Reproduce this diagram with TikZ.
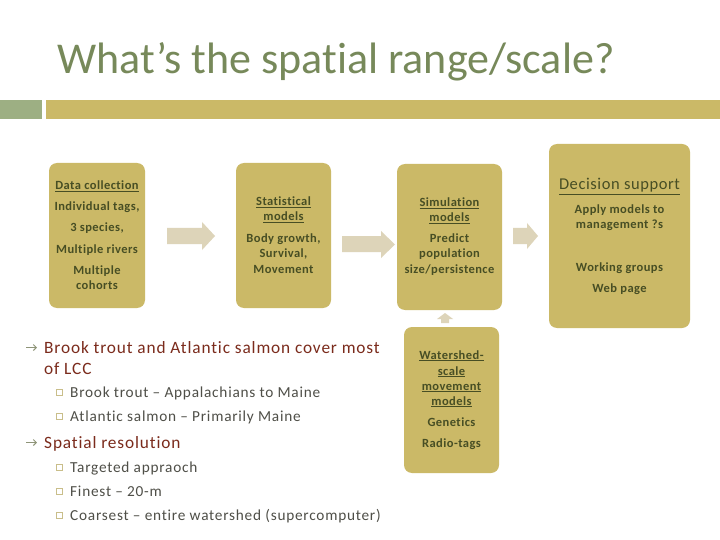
\documentclass[tikz,border=0pt]{standalone}
\usepackage{fontspec}
\setmainfont[Ligatures=NoCommon]{Carlito}
\newfontfamily\spacedfont[LetterSpace=5,Ligatures=NoCommon]{Carlito}
\newfontfamily\boxfont[LetterSpace=3.5,Ligatures=NoCommon]{Carlito}
\usetikzlibrary{arrows.meta}
\definecolor{gold}{HTML}{CBB967}
\definecolor{greenbar}{HTML}{9DAF83}
\definecolor{boxtext}{HTML}{474E24}
\definecolor{titlecol}{HTML}{77895A}
\definecolor{arrowcol}{HTML}{DDD4B9}
\definecolor{darkred}{HTML}{7B2B1C}
\definecolor{subtext}{HTML}{4F4F48}
\definecolor{bulletcol}{HTML}{8E9478}
\definecolor{sqcol}{HTML}{C9BE8A}
\begin{document}
\begin{tikzpicture}[x=1pt,y=-1pt,
  goldbox/.style={fill=gold,rounded corners=8pt,draw=none},
  bt/.style={text=boxtext,font=\boxfont\bfseries\fontsize{12.5}{14}\selectfont,inner sep=0pt,anchor=base},
  bigtxt/.style={text=darkred,font=\spacedfont\fontsize{17.3}{20}\selectfont,inner sep=0pt,anchor=base west},
  subtxt/.style={text=subtext,font=\spacedfont\fontsize{15.3}{18}\selectfont,inner sep=0pt,anchor=base west},
  blockarrow/.style={fill=arrowcol,draw=none},
  bularrow/.style={bulletcol,line width=1pt,-{Straight Barb[length=3pt,width=6pt]}}]
\useasboundingbox (0,0) rectangle (720,540);
\fill[white] (0,0) rectangle (720,540);
% title
\node[text=titlecol,font=\fontsize{44}{50}\selectfont,inner sep=0pt,anchor=base west] (title) at (57,74) {What’s the spatial range/scale?};
% bars
\fill[greenbar] (0,100) rectangle (42,119);
\fill[gold] (46,100) rectangle (720,119);
% boxes
\draw[goldbox] (49,163) rectangle (145,308);
\draw[goldbox] (236,163) rectangle (331,308);
\draw[goldbox] (397,164) rectangle (502,310);
\draw[goldbox] (549,144) rectangle (690,328);
\draw[goldbox] (404,327) rectangle (499,473);
% box 1 texts
\node[bt] (t11) at (97,190) {\underline{Data collection}};
\node[bt] (t12) at (97,211) {Individual tags,};
\node[bt] (t13) at (97,232) {3 species,};
\node[bt] (t14) at (97,253) {Multiple rivers};
\node[bt] (t15) at (97,274) {Multiple};
\node[bt] (t16) at (97,289) {cohorts};
% box 2
\node[bt] (t21) at (283.5,206) {\underline{Statistical}};
\node[bt] (t22) at (283.5,221) {\underline{models}};
\node[bt] (t23) at (283.5,242) {Body growth,};
\node[bt] (t24) at (283.5,258) {Survival,};
\node[bt] (t25) at (283.5,273) {Movement};
% box 3
\node[bt] (t31) at (449.5,207) {\underline{Simulation}};
\node[bt] (t32) at (449.5,222) {\underline{models}};
\node[bt] (t33) at (449.5,243) {Predict};
\node[bt] (t34) at (449.5,258) {population};
\node[bt] (t35) at (449.5,273) {size/persistence};
% box 4
\node[bt,font=\boxfont\fontsize{16.5}{18}\selectfont] (t41) at (619.5,190) {\underline{Decision support}};
\node[bt] (t42) at (619.5,214) {Apply models to};
\node[bt] (t43) at (619.5,229) {management ?s};
\node[bt] (t44) at (619.5,271) {Working groups};
\node[bt] (t45) at (619.5,292) {Web page};
% box 5
\node[bt] (t51) at (451.5,359) {\underline{Watershed-}};
\node[bt] (t52) at (451.5,375) {\underline{scale}};
\node[bt] (t53) at (451.5,390) {\underline{movement}};
\node[bt] (t54) at (451.5,405) {\underline{models}};
\node[bt] (t55) at (451.5,426) {Genetics};
\node[bt] (t56) at (451.5,447) {Radio-tags};
% block arrows
\fill[blockarrow] (167,228) -- (202,228) -- (202,222) -- (215,236) -- (202,250) -- (202,244) -- (167,244) -- cycle;
\fill[blockarrow] (342,236) -- (381,236) -- (381,231) -- (395,244.5) -- (381,258) -- (381,252) -- (342,252) -- cycle;
\fill[blockarrow] (513,228) -- (527,228) -- (527,223) -- (538,236) -- (527,249) -- (527,244) -- (513,244) -- cycle;
\fill[blockarrow] (441,323) -- (449,323) -- (449,319) -- (453,319) -- (445,313) -- (437,319) -- (441,319) -- cycle;
% bullets
\draw[bularrow] (26,347.5) -- (37,347.5);
\node[bigtxt] (l1) at (44,353) {Brook trout and Atlantic salmon cover most};
\node[bigtxt] (l2) at (44,374) {of LCC};
\draw[bularrow] (26,442.5) -- (37,442.5);
\node[bigtxt] (l3) at (44,448) {Spatial resolution};
\foreach \yy/\txt/\nm in {397/Brook trout – Appalachians to Maine/s1, 421/Atlantic salmon – Primarily Maine/s2, 472/Targeted appraoch/s3, 496/Finest – 20-m/s4, 520/Coarsest – entire watershed (supercomputer)/s5}{
  \draw[sqcol,line width=0.7pt] (56,\yy-8) rectangle (62.5,\yy-1.5);
  \node[subtxt] (\nm) at (70,\yy) {\txt};
}
\end{tikzpicture}
\end{document}
